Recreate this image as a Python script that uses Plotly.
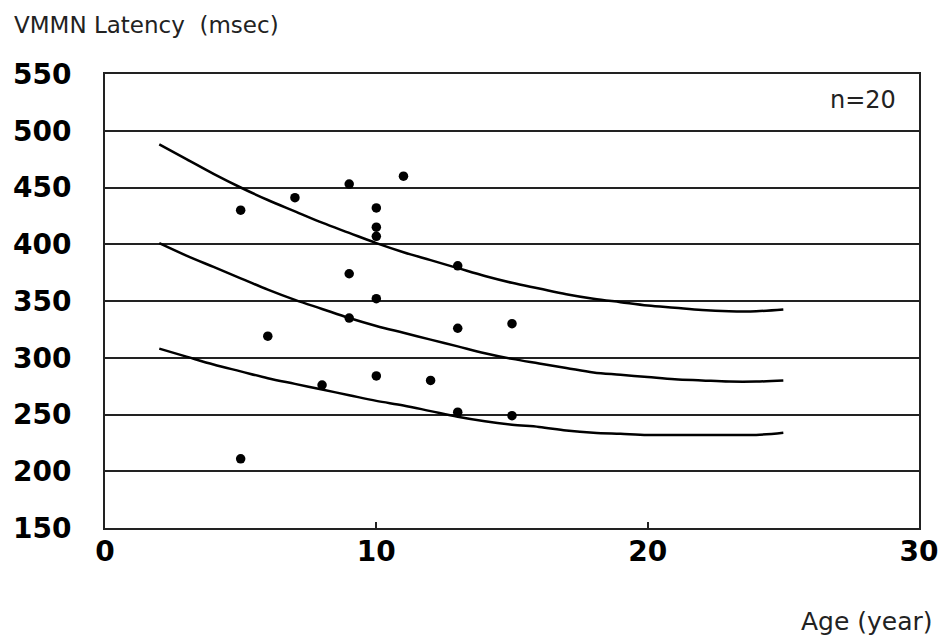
import plotly.graph_objects as go

# Scatter data: age (year) and VMMN latency (msec)
age = [5, 5, 6, 7, 8, 9, 9, 9, 10, 10, 10, 10, 10, 11, 12, 13, 13, 13, 15, 15]
latency = [430, 211, 319, 441, 276, 453, 374, 335, 432, 415, 407, 352, 284, 460, 280, 381, 326, 252, 330, 249]

# Curves
curve_age = [2, 3, 4, 5, 6, 7, 8, 9, 10, 11, 12, 13, 14, 15, 16, 17, 18, 19, 20, 21, 22, 23, 24, 25]
upper = [488, 475, 462, 450, 439, 429, 419, 410, 401, 393, 386, 379, 372, 366, 361, 356, 352, 349, 346, 344, 342, 341, 341, 342.5]
middle = [401, 390, 380, 370, 360, 351, 343, 335, 328, 322, 316, 310, 304, 299, 295, 291, 287, 285, 283, 281, 280, 279, 279, 280]
lower = [308, 301, 294, 288, 282, 277, 272, 267, 262, 258, 253, 248, 244, 241, 239, 236, 234, 233, 232, 232, 232, 232, 232, 234]

x_ticks = [0, 10, 20, 30]
y_ticks = [150, 200, 250, 300, 350, 400, 450, 500, 550]

fig = go.Figure()
for c in (upper, middle, lower):
    fig.add_trace(go.Scatter(x=curve_age, y=c, mode="lines",
                             line=dict(color="black", width=2.5, shape="spline", smoothing=1.0),
                             showlegend=False, hoverinfo="skip"))
fig.add_trace(go.Scatter(x=age, y=latency, mode="markers",
                         marker=dict(color="black", size=9.5), showlegend=False))

fig.update_layout(
    width=945, height=641,
    margin=dict(l=105, r=26, t=74, b=113, autoexpand=False),
    paper_bgcolor="white", plot_bgcolor="white",
    font=dict(family="DejaVu Sans", color="black"),
    xaxis=dict(range=[0, 30], tickvals=x_ticks, ticks="inside", ticklen=6,
               tickwidth=1.5, tickcolor="#222", showgrid=False, zeroline=False,
               showline=True, linecolor="#222", linewidth=2, mirror=True,
               automargin=False,
               tickfont=dict(family="DejaVu Sans", size=28, color="black", weight="bold"),
               ticklabelstandoff=-3),
    yaxis=dict(range=[150, 550], tickvals=y_ticks, ticks="", showgrid=True,
               gridcolor="#222", gridwidth=1.5, zeroline=False,
               showline=True, linecolor="#222", linewidth=2, mirror=True,
               automargin=False,
               tickfont=dict(family="DejaVu Sans", size=28, color="black", weight="bold"),
               ticklabelstandoff=26),
    annotations=[
        dict(text="VMMN Latency  (msec)", xref="paper", yref="paper",
             x=-0.1143, y=1.108, xanchor="left", yanchor="middle", showarrow=False,
             font=dict(family="DejaVu Sans", size=23, color="#222")),
        dict(text="Age (year)", xref="paper", yref="paper",
             x=1.0197, y=-0.205, xanchor="right", yanchor="middle", showarrow=False,
             font=dict(family="DejaVu Sans", size=25, color="#222")),
        dict(text="n=20", xref="paper", yref="paper",
             x=0.974, y=0.943, xanchor="right", yanchor="middle", showarrow=False,
             font=dict(family="DejaVu Sans", size=24, color="#222")),
    ],
)

fig.write_html("out.html", config={"displayModeBar": False},
               post_script="document.body.style.margin='0';document.body.style.padding='0';")
